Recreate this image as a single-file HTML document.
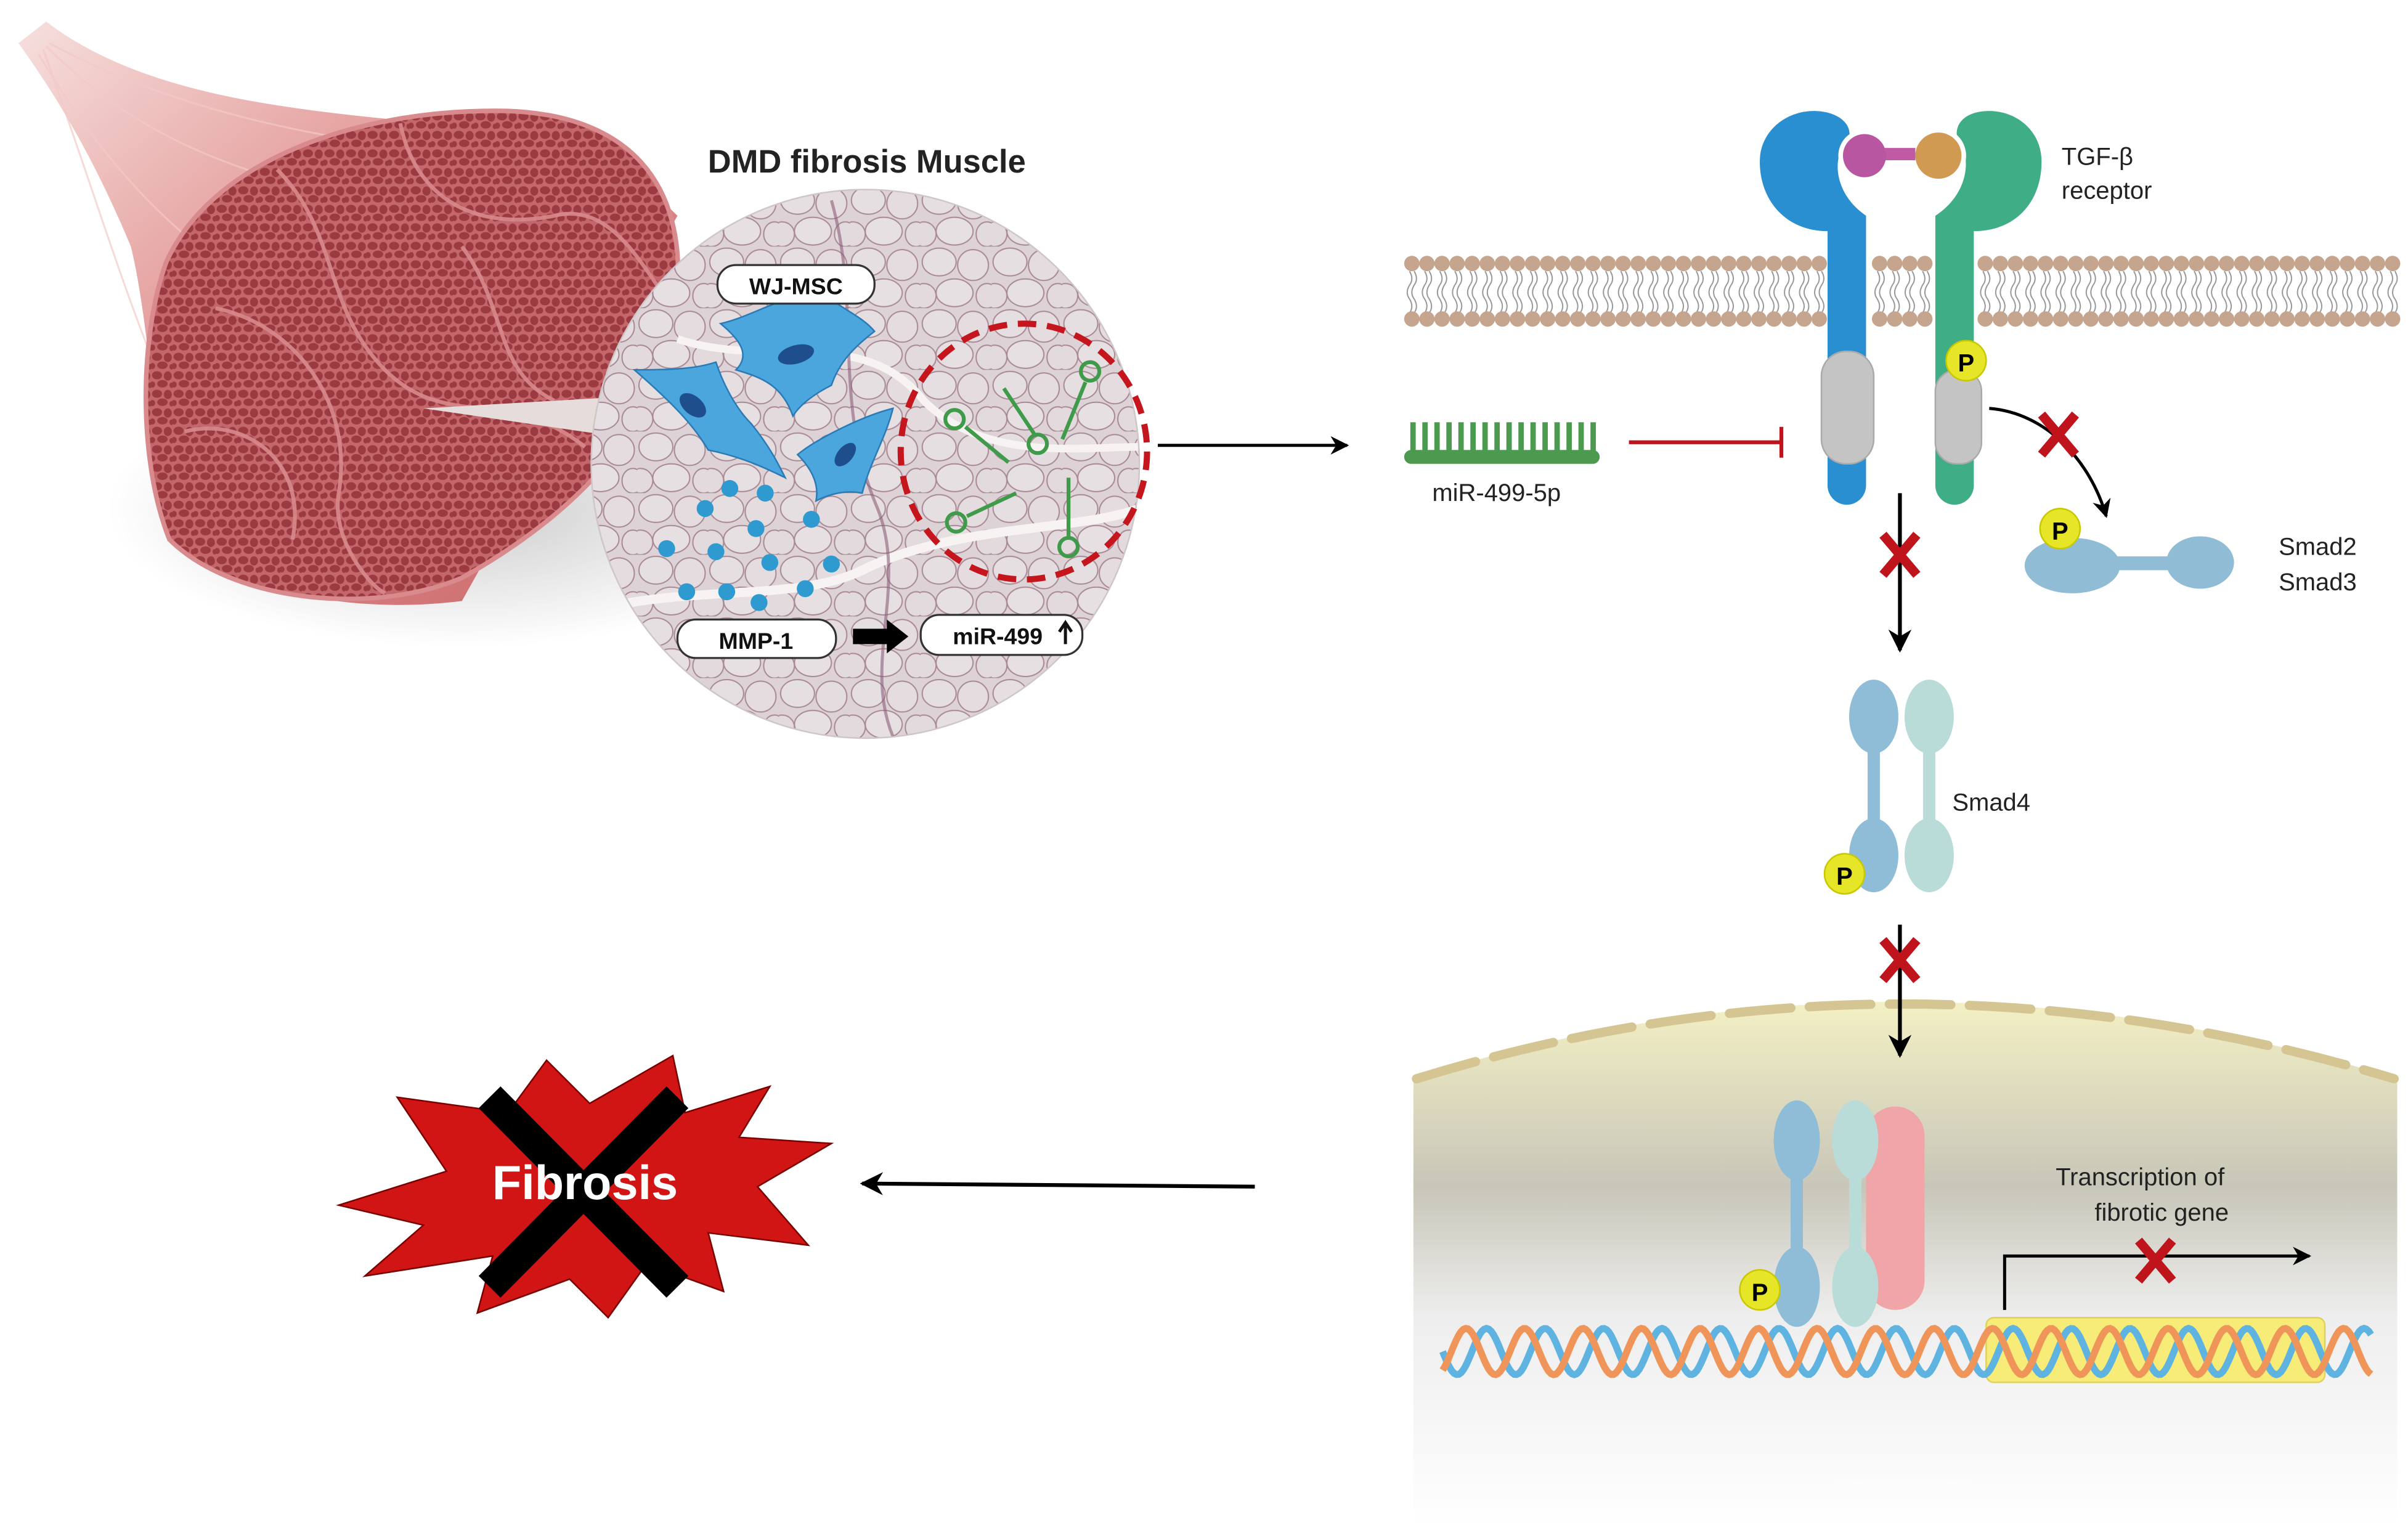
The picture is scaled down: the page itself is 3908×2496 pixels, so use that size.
<!DOCTYPE html>
<html><head><meta charset="utf-8"><style>
html,body{margin:0;padding:0;background:#fff;width:3908px;height:2496px;overflow:hidden;position:relative}
svg{display:block;position:absolute;left:0;top:0}
text{font-family:"Liberation Sans",sans-serif}
</style></head><body>
<svg id="s" width="3908" height="2496" viewBox="0 0 1564 998" preserveAspectRatio="none" xmlns="http://www.w3.org/2000/svg">
<defs>
<pattern id="cells" width="14" height="12" patternUnits="userSpaceOnUse">
<rect width="14" height="12" fill="#c4676b"/>
<ellipse cx="4" cy="3.5" rx="3.3" ry="2.6" fill="#9b3a40"/>
<ellipse cx="11" cy="4" rx="2.6" ry="3" fill="#9b3a40"/>
<ellipse cx="7.5" cy="9" rx="3.4" ry="2.4" fill="#9b3a40"/>
<ellipse cx="1" cy="9.5" rx="1.8" ry="2" fill="#9b3a40"/>
<ellipse cx="13.5" cy="10" rx="1.5" ry="1.8" fill="#9b3a40"/>
</pattern>
<pattern id="histo" width="46" height="40" patternUnits="userSpaceOnUse">
<rect width="46" height="40" fill="#ddd3d6"/>
<ellipse cx="12" cy="10" rx="11" ry="9" fill="#e6dfe1" stroke="#a88894" stroke-width="0.8"/>
<ellipse cx="34" cy="12" rx="10" ry="10" fill="#e4dcdf" stroke="#a88894" stroke-width="0.8"/>
<ellipse cx="22" cy="30" rx="12" ry="9" fill="#e7e0e2" stroke="#a88894" stroke-width="0.8"/>
<ellipse cx="2" cy="32" rx="8" ry="8" fill="#e3dadd" stroke="#a88894" stroke-width="0.8"/>
<ellipse cx="43" cy="32" rx="7" ry="8" fill="#e3dadd" stroke="#a88894" stroke-width="0.8"/>
</pattern>
<linearGradient id="tendon" x1="0" y1="0" x2="1" y2="1">
<stop offset="0" stop-color="#f6e0de"/><stop offset="0.4" stop-color="#e39a98"/><stop offset="1" stop-color="#c96468"/>
</linearGradient>
<linearGradient id="nuc" x1="0" y1="0" x2="0" y2="1">
<stop offset="0" stop-color="#f3f0c4"/><stop offset="0.35" stop-color="#c8c6b8"/><stop offset="0.6" stop-color="#eeeeee"/><stop offset="1" stop-color="#ffffff"/>
</linearGradient>
<radialGradient id="nucw" cx="0.5" cy="0.85" r="0.5">
<stop offset="0" stop-color="#fff" stop-opacity="1"/><stop offset="1" stop-color="#fff" stop-opacity="0"/>
</radialGradient>
<radialGradient id="shadow" cx="0.5" cy="0.5" r="0.5">
<stop offset="0" stop-color="#999" stop-opacity="0.5"/><stop offset="1" stop-color="#999" stop-opacity="0"/>
</radialGradient>
<clipPath id="circ"><circle cx="562" cy="301" r="178"/></clipPath>
<marker id="ah" viewBox="0 0 10 10" refX="9" refY="5" markerWidth="6" markerHeight="6" orient="auto"><path d="M0,0 L10,5 L0,10 L3,5 z" fill="#000"/></marker>
</defs>

<ellipse cx="300" cy="330" rx="230" ry="90" fill="url(#shadow)"/>
<path d="M12,28 L30,14 C90,60 180,70 260,78 C340,85 400,100 440,140 L300,390 C220,400 140,380 110,340 C100,270 95,200 85,160 C60,100 35,60 12,28 z" fill="url(#tendon)"/>
<g stroke="#f4c9c7" stroke-width="1.2" opacity="0.7" fill="none">
<path d="M30,30 C90,90 150,110 230,130"/><path d="M25,35 C70,110 110,150 170,190"/><path d="M28,32 C60,120 80,190 110,260"/><path d="M32,28 C110,70 200,90 300,100"/>
</g>
<path d="M108,170 C140,100 240,70 330,72 C410,75 445,120 440,190 C435,270 380,330 300,375 C240,400 150,390 110,350 C90,300 90,220 108,170 z" fill="url(#cells)" stroke="#d98a8c" stroke-width="3"/>
<g stroke="#d98a8c" stroke-width="2.5" fill="none" opacity="0.9">
<path d="M180,110 C220,150 210,200 250,240 C290,280 330,250 380,290"/>
<path d="M140,200 C190,210 230,260 220,320 C215,350 240,380 250,385"/>
<path d="M260,80 C270,130 310,150 360,140 C400,130 420,180 438,200"/>
<path d="M300,160 C330,200 320,240 360,260"/>
<path d="M120,280 C160,270 200,300 190,350"/>
</g>
<path d="M275,265 L395,258 L392,282 z" fill="#e6dcdc"/>

<text x="563" y="112" text-anchor="middle" font-size="21" font-weight="bold" fill="#222">DMD fibrosis Muscle</text>
<circle cx="562" cy="301" r="178" fill="url(#histo)"/>
<g clip-path="url(#circ)" fill="none">
<path d="M390,395 C450,380 520,390 560,370 C620,340 700,345 740,330" stroke="#f7f3f3" stroke-width="6"/>
<path d="M440,220 C500,240 560,210 600,260 C640,300 700,290 740,290" stroke="#f7f3f3" stroke-width="5"/>
<path d="M540,130 C560,200 540,260 570,330 C590,380 560,430 580,478" stroke="#8c5f78" stroke-width="2" opacity="0.6"/>
</g>
<circle cx="562" cy="301" r="178" fill="none" stroke="#cfc6c8" stroke-width="1"/>
<g fill="#4aa6dc" stroke="#2a7ab5" stroke-width="1">
<path d="M468,210 C490,205 510,190 535,190 C545,200 560,205 568,215 C555,225 545,235 540,250 C530,255 520,262 515,270 C508,250 495,245 478,240 C488,230 480,220 468,210 z"/>
<path d="M412,240 C430,240 450,240 465,235 C470,250 478,265 488,275 C500,290 505,300 510,310 C490,300 475,295 460,292 C450,275 435,260 412,240 z"/>
<path d="M518,295 C530,285 560,270 580,265 C575,285 565,300 560,320 C550,318 540,320 530,325 C532,315 528,305 518,295 z"/>
</g>
<g fill="#1e4f8c">
<ellipse cx="517" cy="230" rx="12" ry="6" transform="rotate(-15 517 230)"/>
<ellipse cx="450" cy="263" rx="10" ry="6" transform="rotate(40 450 263)"/>
<ellipse cx="549" cy="295" rx="9" ry="5" transform="rotate(-50 549 295)"/>
</g>
<g fill="#2e9ad0">
<circle cx="474" cy="317" r="5.5"/><circle cx="497" cy="320" r="5.5"/><circle cx="458" cy="330" r="5.5"/><circle cx="491" cy="343" r="5.5"/><circle cx="527" cy="337" r="5.5"/>
<circle cx="433" cy="356" r="5.5"/><circle cx="465" cy="358" r="5.5"/><circle cx="500" cy="365" r="5.5"/><circle cx="540" cy="366" r="5.5"/>
<circle cx="446" cy="384" r="5.5"/><circle cx="472" cy="384" r="5.5"/><circle cx="493" cy="391" r="5.5"/><circle cx="523" cy="382" r="5.5"/>
</g>
<ellipse cx="665" cy="293" rx="80" ry="83" fill="none" stroke="#c4161c" stroke-width="4" stroke-dasharray="12,7"/>
<g stroke="#3f9a4a" stroke-width="2.5" fill="none">
<line x1="627" y1="277" x2="655" y2="300"/><circle cx="620" cy="272" r="6"/>
<line x1="652" y1="252" x2="672" y2="282"/><circle cx="674" cy="288" r="6"/>
<line x1="705" y1="248" x2="690" y2="285"/><circle cx="708" cy="241" r="6"/>
<line x1="660" y1="320" x2="628" y2="335"/><circle cx="621" cy="339" r="6"/>
<line x1="694" y1="310" x2="694" y2="348"/><circle cx="694" cy="355" r="6"/>
</g>
<g stroke="#333" stroke-width="1.3" fill="#fff">
<rect x="466" y="172" width="102" height="25" rx="12"/>
<rect x="440" y="402" width="103" height="25" rx="12"/>
<rect x="598" y="399" width="105" height="26" rx="12"/>
</g>
<text x="517" y="191" text-anchor="middle" font-size="15" font-weight="bold" fill="#111">WJ-MSC</text>
<text x="491" y="421" text-anchor="middle" font-size="15" font-weight="bold" fill="#111">MMP-1</text>
<text x="648" y="418" text-anchor="middle" font-size="15" font-weight="bold" fill="#111">miR-499</text>
<path d="M692,418 L692,406 M688,410 L692,404 L696,410" stroke="#111" stroke-width="2" fill="none"/>
<path d="M554,408 L576,408 L576,402 L590,413 L576,424 L576,418 L554,418 z" fill="#000"/>

<line x1="752" y1="289" x2="875" y2="289" stroke="#000" stroke-width="2" marker-end="url(#ah)"/>

<g id="mem"></g>

<path d="M1187,150 C1160,150 1143,130 1143,105 C1143,85 1160,72 1178,72 C1195,72 1205,82 1200,92 C1190,100 1190,125 1212,140 L1212,315 A12.5,12.5 0 0 1 1187,315 z" fill="#2a8fd0"/>
<path d="M1282,150 C1310,150 1326,130 1326,105 C1326,85 1310,72 1292,72 C1275,72 1268,82 1272,92 C1280,100 1280,125 1257,140 L1257,315 A12.5,12.5 0 0 0 1282,315 z" fill="#3fae86"/>
<circle cx="1211" cy="101" r="17" fill="#fff"/><circle cx="1259" cy="101" r="18" fill="#fff"/>
<rect x="1222" y="96" width="22" height="8" fill="#c15aa5"/>
<circle cx="1211" cy="101" r="14" fill="#b956a2"/>
<circle cx="1259" cy="101" r="15" fill="#d19a52"/>
<rect x="1183" y="228" width="34" height="73" rx="16" fill="#c4c4c4" stroke="#aaa"/>
<rect x="1257" y="240" width="30" height="61" rx="14" fill="#c4c4c4" stroke="#aaa"/>
<circle cx="1277" cy="234" r="13" fill="#e6e528" stroke="#c8c800"/>
<text x="1277" y="241" text-anchor="middle" font-size="16" font-weight="bold">P</text>
<text x="1339" y="107" font-size="16" fill="#222">TGF-β</text>
<text x="1339" y="129" font-size="16" fill="#222">receptor</text>

<g id="comb"></g>
<rect x="912" y="292" width="127" height="9" rx="4.5" fill="#4c9a4f"/>
<text x="972" y="325" text-anchor="middle" font-size="16" fill="#222">miR-499-5p</text>
<line x1="1058" y1="287" x2="1157" y2="287" stroke="#c0141c" stroke-width="2.5"/>
<line x1="1157" y1="277" x2="1157" y2="297" stroke="#c0141c" stroke-width="2.5"/>

<path d="M1292,265 C1330,268 1358,300 1368,335" fill="none" stroke="#000" stroke-width="2" marker-end="url(#ah)"/>
<rect x="1350" y="361" width="70" height="9" fill="#90bcd6"/>
<ellipse cx="1346" cy="367" rx="31" ry="18" fill="#90bcd6"/>
<ellipse cx="1429" cy="365" rx="22" ry="17" fill="#90bcd6"/>
<circle cx="1338" cy="343" r="13" fill="#e6e528" stroke="#c8c800"/>
<text x="1338" y="350" text-anchor="middle" font-size="16" font-weight="bold">P</text>
<text x="1480" y="360" font-size="16" fill="#222">Smad2</text>
<text x="1480" y="383" font-size="16" fill="#222">Smad3</text>

<line x1="1234" y1="320" x2="1234" y2="422" stroke="#000" stroke-width="2.5" marker-end="url(#ah)"/>

<g>
<rect x="1213" y="470" width="8" height="80" fill="#8fbcd6"/>
<ellipse cx="1217" cy="465" rx="16" ry="24" fill="#8fbcd6"/>
<ellipse cx="1217" cy="555" rx="16" ry="24" fill="#8fbcd6"/>
<rect x="1249" y="470" width="8" height="80" fill="#b9dcd9"/>
<ellipse cx="1253" cy="465" rx="16" ry="24" fill="#b9dcd9"/>
<ellipse cx="1253" cy="555" rx="16" ry="24" fill="#b9dcd9"/>
<circle cx="1198" cy="567" r="13" fill="#e6e528" stroke="#c8c800"/>
<text x="1198" y="574" text-anchor="middle" font-size="16" font-weight="bold">P</text>
<text x="1268" y="526" font-size="16" fill="#222">Smad4</text>
</g>

<path d="M918,700 Q1234,600 1557,700 L1557,992 L918,992 z" fill="url(#nuc)"/>
<ellipse cx="1237" cy="990" rx="300" ry="170" fill="url(#nucw)"/>
<path d="M920,700 Q1234,603 1555,700" fill="none" stroke="#d4c592" stroke-width="6" stroke-dasharray="40,12" stroke-linecap="round"/>
<line x1="1234" y1="600" x2="1234" y2="685" stroke="#000" stroke-width="2.5" marker-end="url(#ah)"/>

<rect x="1212" y="718" width="38" height="132" rx="19" fill="#f0a6a8"/>
<rect x="1163" y="745" width="8" height="90" fill="#8fbcd6"/>
<ellipse cx="1167" cy="740" rx="15" ry="26" fill="#8fbcd6"/>
<ellipse cx="1167" cy="835" rx="15" ry="26" fill="#8fbcd6"/>
<rect x="1201" y="745" width="8" height="90" fill="#b9dcd9"/>
<ellipse cx="1205" cy="740" rx="15" ry="26" fill="#b9dcd9"/>
<ellipse cx="1205" cy="835" rx="15" ry="26" fill="#b9dcd9"/>
<circle cx="1143" cy="837" r="13" fill="#e6e528" stroke="#c8c800"/>
<text x="1143" y="844" text-anchor="middle" font-size="16" font-weight="bold">P</text>

<rect x="1290" y="855" width="220" height="42" rx="5" fill="#f7ec78" stroke="#e0d060"/>
<g id="dna"></g>
<path d="M1302,850 L1302,815 L1500,815" fill="none" stroke="#000" stroke-width="2" marker-end="url(#ah)"/>
<text x="1390" y="769" text-anchor="middle" font-size="16" fill="#222">Transcription of</text>
<text x="1404" y="792" text-anchor="middle" font-size="16" fill="#222">fibrotic gene</text>
<g id="xs"></g>

<line x1="815" y1="770" x2="560" y2="768" stroke="#000" stroke-width="2.5" marker-end="url(#ah)"/>

<path d="M220,782 L290,760 L258,712 L330,722 L355,688 L383,716 L437,685 L445,722 L500,705 L480,738 L540,742 L492,770 L525,808 L460,800 L470,838 L420,820 L395,855 L370,830 L310,852 L320,815 L237,828 L275,795 z" fill="#d11515" stroke="#7a0000" stroke-width="1"/>
<g stroke="#000" stroke-width="20" stroke-linecap="butt">
<line x1="318" y1="712" x2="440" y2="835"/><line x1="440" y1="712" x2="318" y2="835"/>
</g>
<text x="380" y="778" text-anchor="middle" font-size="31" font-weight="bold" fill="#fff">Fibrosis</text>
</svg>
<script>
var NS="http://www.w3.org/2000/svg";
function el(p,n,a){var e=document.createElementNS(NS,n);for(var k in a)e.setAttribute(k,a[k]);p.appendChild(e);return e;}
var mem=document.getElementById("mem");
for(var x=917;x<=1555;x+=9.8){
 if(x>1183&&x<1216)continue; if(x>1253&&x<1286)continue;
 el(mem,"path",{d:"M"+(x-1.5)+",176 q3,5 0,9 q-3,5 0,9 q3,5 0,9 M"+(x+1.5)+",176 q3,5 0,9 q-3,5 0,9 q3,5 0,9",stroke:"#999",fill:"none","stroke-width":"0.8"});
 el(mem,"circle",{cx:x,cy:171,r:5,fill:"#c6a58e"});
 el(mem,"circle",{cx:x,cy:207,r:5,fill:"#c6a58e"});
}
var comb=document.getElementById("comb");
for(var i=0;i<16;i++){var cx=916+i*7.8;el(comb,"rect",{x:cx,y:274,width:3.5,height:22,fill:"#4c9a4f"});}
var xs=document.getElementById("xs");
[[1337,282],[1234,360],[1234,623],[1400,818]].forEach(function(p){
 el(xs,"path",{d:"M"+(p[0]-11)+","+(p[1]-13)+" L"+(p[0]+11)+","+(p[1]+13)+" M"+(p[0]+11)+","+(p[1]-13)+" L"+(p[0]-11)+","+(p[1]+13),stroke:"#c0141c","stroke-width":"6"});
});
var dna=document.getElementById("dna");
function strand(ph,col,w){var d="";for(var x=937;x<=1540;x+=1.5){var y=877+15*Math.sin((x-937)/38*2*Math.PI+ph);d+=(x==937?"M":"L")+x+","+y.toFixed(1)+" ";}el(dna,"path",{d:d,stroke:col,"stroke-width":w,fill:"none"});}
strand(0,"#5fb3e0",4.5);strand(2.2,"#f0955a",4.5);
</script>
</body></html>
